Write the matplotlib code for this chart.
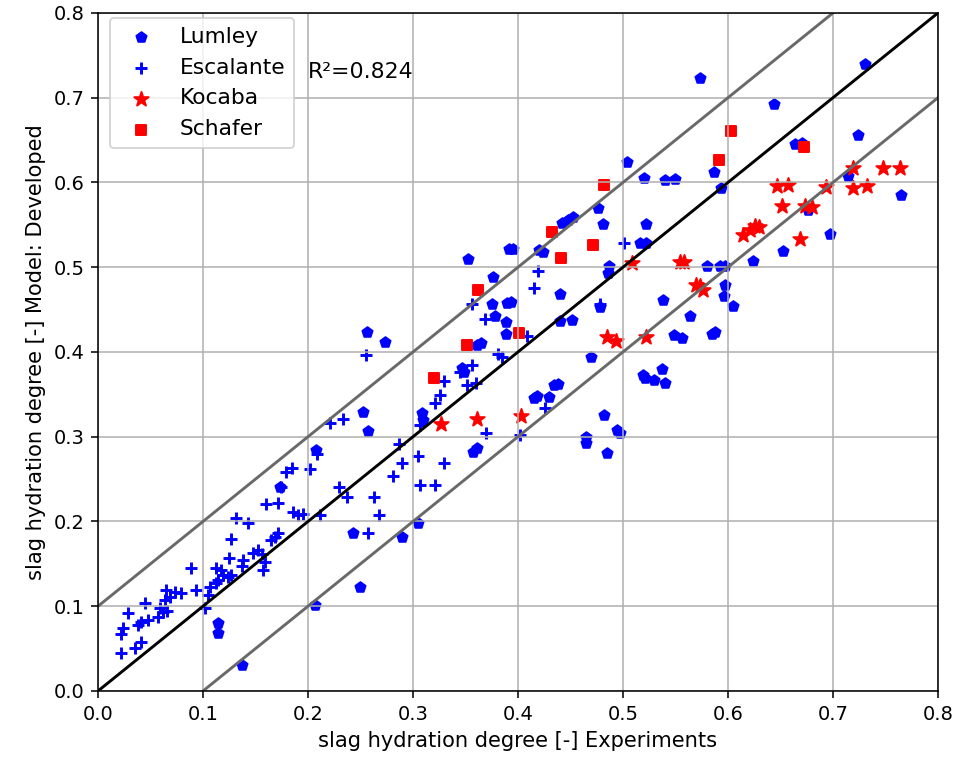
import numpy as np
import matplotlib
matplotlib.use("Agg")
import matplotlib.pyplot as plt

# Lumley (blue pentagons)
lumley_exp = [0.573, 0.731, 0.644, 0.724, 0.664, 0.671, 0.504, 0.520, 0.540, 0.550,
              0.587, 0.593, 0.714, 0.765, 0.676, 0.697, 0.652, 0.624, 0.580, 0.592,
              0.597, 0.597, 0.596, 0.605, 0.538, 0.564, 0.588, 0.585, 0.549, 0.556,
              0.470, 0.476, 0.452, 0.448, 0.442, 0.481, 0.522, 0.516, 0.522, 0.391,
              0.395, 0.420, 0.424, 0.352, 0.376, 0.440, 0.375, 0.390, 0.393, 0.378,
              0.389, 0.440, 0.451, 0.389, 0.365, 0.361, 0.487, 0.486, 0.478, 0.347,
              0.349, 0.309, 0.310, 0.415, 0.418, 0.430, 0.434, 0.438, 0.482, 0.465,
              0.465, 0.485, 0.494, 0.497, 0.519, 0.521, 0.530, 0.537, 0.540, 0.357,
              0.361, 0.305, 0.290, 0.257, 0.256, 0.273, 0.252, 0.208, 0.173, 0.243,
              0.250, 0.207, 0.114, 0.114, 0.137]
lumley_mod = [0.723, 0.740, 0.693, 0.656, 0.645, 0.647, 0.624, 0.605, 0.603, 0.604,
              0.612, 0.594, 0.608, 0.585, 0.568, 0.539, 0.519, 0.507, 0.501, 0.501,
              0.501, 0.479, 0.466, 0.454, 0.461, 0.442, 0.424, 0.421, 0.420, 0.417,
              0.394, 0.570, 0.559, 0.556, 0.552, 0.551, 0.551, 0.529, 0.529, 0.522,
              0.522, 0.520, 0.518, 0.510, 0.488, 0.468, 0.457, 0.458, 0.459, 0.442,
              0.435, 0.437, 0.438, 0.421, 0.411, 0.408, 0.501, 0.493, 0.453, 0.381,
              0.376, 0.328, 0.320, 0.346, 0.348, 0.347, 0.361, 0.362, 0.326, 0.300,
              0.293, 0.281, 0.308, 0.304, 0.373, 0.369, 0.367, 0.380, 0.363, 0.282,
              0.287, 0.198, 0.182, 0.307, 0.424, 0.412, 0.329, 0.284, 0.241, 0.186,
              0.123, 0.101, 0.080, 0.068, 0.031]

# Escalante (blue crosses)
escalante_exp = [0.022, 0.035, 0.041, 0.022, 0.024, 0.038, 0.041, 0.048, 0.029, 0.045,
                 0.057, 0.059, 0.062, 0.066, 0.064, 0.069, 0.065, 0.073, 0.079, 0.089,
                 0.093, 0.102, 0.105, 0.107, 0.112, 0.114, 0.112, 0.117, 0.119, 0.124,
                 0.127, 0.125, 0.127, 0.131, 0.143, 0.138, 0.137, 0.148, 0.152, 0.156,
                 0.159, 0.157, 0.165, 0.169, 0.171, 0.160, 0.171, 0.174, 0.179, 0.185,
                 0.186, 0.190, 0.195, 0.202, 0.209, 0.211, 0.221, 0.233, 0.230, 0.237,
                 0.255, 0.257, 0.263, 0.268, 0.281, 0.287, 0.290, 0.305, 0.307, 0.321,
                 0.307, 0.321, 0.326, 0.330, 0.330, 0.345, 0.351, 0.356, 0.360, 0.370,
                 0.356, 0.369, 0.381, 0.385, 0.402, 0.409, 0.415, 0.419, 0.426, 0.478,
                 0.501]
escalante_mod = [0.045, 0.051, 0.058, 0.067, 0.074, 0.078, 0.081, 0.084, 0.092, 0.104,
                 0.087, 0.098, 0.093, 0.094, 0.107, 0.111, 0.119, 0.117, 0.116, 0.145,
                 0.119, 0.098, 0.113, 0.123, 0.127, 0.131, 0.145, 0.143, 0.137, 0.135,
                 0.137, 0.157, 0.179, 0.204, 0.198, 0.155, 0.147, 0.163, 0.166, 0.162,
                 0.152, 0.143, 0.178, 0.182, 0.186, 0.221, 0.222, 0.241, 0.258, 0.263,
                 0.211, 0.208, 0.209, 0.262, 0.280, 0.208, 0.316, 0.321, 0.241, 0.229,
                 0.396, 0.186, 0.229, 0.208, 0.254, 0.291, 0.269, 0.277, 0.243, 0.243,
                 0.314, 0.340, 0.349, 0.366, 0.269, 0.376, 0.361, 0.385, 0.363, 0.304,
                 0.457, 0.439, 0.398, 0.394, 0.302, 0.419, 0.476, 0.496, 0.334, 0.457,
                 0.529]

# Kocaba (red stars)
kocaba_exp = [0.327, 0.361, 0.403, 0.485, 0.493, 0.522, 0.509, 0.554, 0.558, 0.570,
              0.576, 0.573, 0.614, 0.621, 0.626, 0.630, 0.669, 0.647, 0.657, 0.651,
              0.673, 0.680, 0.693, 0.719, 0.748, 0.764, 0.719, 0.732]
kocaba_mod = [0.315, 0.321, 0.324, 0.418, 0.413, 0.418, 0.505, 0.506, 0.506, 0.479,
              0.473, 0.478, 0.538, 0.544, 0.549, 0.547, 0.533, 0.596, 0.597, 0.572,
              0.572, 0.571, 0.595, 0.617, 0.617, 0.617, 0.594, 0.596]

# Schafer (red squares)
schafer_exp = [0.603, 0.591, 0.672, 0.482, 0.432, 0.471, 0.441, 0.362, 0.401, 0.351, 0.320]
schafer_mod = [0.661, 0.627, 0.642, 0.597, 0.542, 0.526, 0.511, 0.473, 0.422, 0.408, 0.369]

r2 = 0.824
band = 0.1

fig = plt.figure(figsize=(961 / 140, 763 / 140), dpi=140)
ax = fig.add_axes([0.102, 0.0944, 0.874, 0.8886])

ax.scatter(lumley_exp, lumley_mod, marker='p', color='blue', s=30, label='Lumley')
ax.scatter(escalante_exp, escalante_mod, marker='+', color='blue', s=40, label='Escalante')
ax.scatter(kocaba_exp, kocaba_mod, marker='*', color='red', s=60, label='Kocaba')
ax.scatter(schafer_exp, schafer_mod, marker='s', color='red', s=32, label='Schafer')

# 1:1 line and +/- band
xx = np.array([0.0, 0.8])
ax.plot(xx, xx, color='black', lw=1.5)
ax.plot(xx, xx + band, color='dimgray', lw=1.5)
ax.plot(xx, xx - band, color='dimgray', lw=1.5)

ax.text(0.2, 0.73, 'R²=%.3f' % r2, va='center', fontsize=11.3)

ax.set_xlim(0, 0.8)
ax.set_ylim(0, 0.8)
ax.set_xlabel('slag hydration degree [-] Experiments', fontsize=10.8)
ax.set_ylabel('slag hydration degree [-] Model: Developed', fontsize=10.8)
ax.grid(True)
ax.legend(loc='upper left', bbox_to_anchor=(0.0143, 0.9926), borderaxespad=0,
          fontsize=11.2)

fig.savefig('out.png', dpi=140)
